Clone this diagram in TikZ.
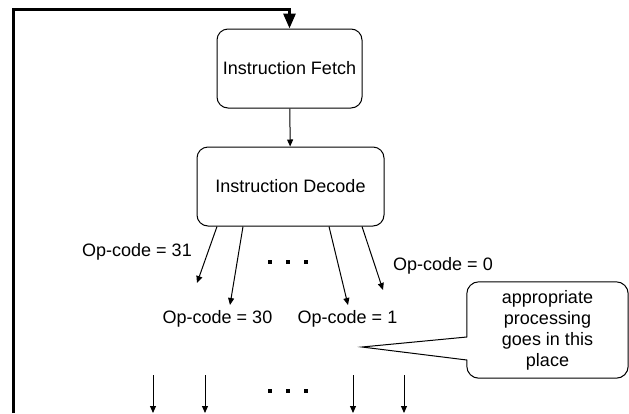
\documentclass[tikz,border=0pt]{standalone}
\usepackage{fontspec}
\setmainfont{Liberation Sans}
\usetikzlibrary{arrows.meta, positioning}

\begin{document}
\begin{tikzpicture}[
    x=1pt, y=-1pt,
    >={Triangle[length=7pt,width=6pt]},
    font=\fontsize{18}{21}\selectfont,
    stage/.style={
        draw=black, rounded corners=11pt, align=center,
        inner sep=0pt, line width=1pt
    },
    arr/.style={->, draw=black, line width=1pt},
    loopline/.style={-{Triangle[length=15pt,width=12pt]}, draw=black, line width=3pt},
    note/.style={align=center, inner sep=0pt, minimum width=161pt, minimum height=96pt},
    lbl/.style={inner sep=0pt},
]
\useasboundingbox (0,0) rectangle (629,413);
% ---------- Layer 0 : fetch / decode ----------
\node[stage, minimum width=145pt, minimum height=79pt] (fetch)  at (289.5, 68.5) {Instruction Fetch};
\node[stage, minimum width=187pt, minimum height=79pt] (decode) at (290.5, 186.5) {Instruction Decode};
% ---------- Layer 1 : op-code branches ----------
\coordinate (br31) at (197, 283);
\coordinate (br30) at (230, 305);
\coordinate (br1)  at (348, 305);
\coordinate (br0)  at (383, 290);
\node[lbl] (op31) at (137, 252)   {Op-code = 31};
\node[lbl] (op30) at (217.5, 319) {Op-code = 30};
\node[lbl] (op1)  at (347.5, 319) {Op-code = 1};
\node[lbl] (op0)  at (443, 266)   {Op-code = 0};
\foreach \x in {270, 288, 306} \fill (\x-1.7, 260.3) rectangle ++(3.4, 3.4);
% ---------- Layer 2 : processing ----------
\node[note] (note) at (547.5, 330) {appropriate\\processing\\goes in this\\place};
\coordinate (tip) at (362, 347);
\foreach \x in {270, 288, 306} \fill (\x-1.7, 389.3) rectangle ++(3.4, 3.4);
\foreach \n/\x in {a/153, b/205, c/353, d/404} {
    \coordinate (out\n) at (\x, 375);
    \coordinate (end\n) at (\x, 413);
}
% ---------- loop back ----------
\coordinate (loopin)  at (13, 413);
\coordinate (looptop) at (fetch.north |- 0, 9);
% ===================== EDGES =====================
\draw[loopline] (loopin) |- (looptop) -- (fetch.north);
\draw[arr] (fetch) -- (decode);
\draw[arr] ([xshift=-73.5pt]decode.south) -- (br31);
\draw[arr] ([xshift=-47.5pt]decode.south) -- (br30);
\draw[arr] ([xshift=38.5pt]decode.south)  -- (br1);
\draw[arr] ([xshift=71.5pt]decode.south)  -- (br0);
\foreach \n in {a, b, c, d} \draw[arr] (out\n) -- (end\n);
% callout outline
\draw[line width=1pt] ([yshift=-7pt]note.west) [rounded corners=12pt] -- (note.north west)
    -- (note.north east) -- (note.south east) -- (note.south west)
    [sharp corners] -- ([yshift=-30pt]note.west) -- (tip) -- cycle;
\end{tikzpicture}
\end{document}
